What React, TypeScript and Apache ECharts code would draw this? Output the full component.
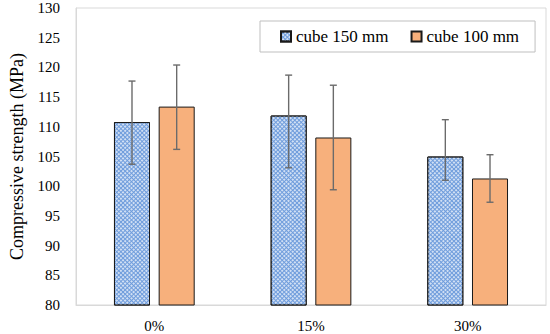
import React, { useEffect, useRef } from "react";
import * as echarts from "echarts";

const categories = ["0%", "15%", "30%"];
const seriesNames = ["cube 150 mm", "cube 100 mm"];
const cube150 = [110.8, 111.9, 105.0];
const cube100 = [113.4, 108.2, 101.3];
const err150Low = [103.7, 103.1, 101.0];
const err150High = [117.7, 118.7, 111.2];
const err100Low = [106.2, 99.4, 97.3];
const err100High = [120.4, 117.0, 105.3];
const yTicks = { min: 80, max: 130, interval: 5 };

const FONT = "'Liberation Serif', 'DejaVu Serif', serif";

export default function App() {
  const ref = useRef<HTMLDivElement>(null);
  useEffect(() => {
    if (!ref.current) return;
    const chart = echarts.init(ref.current, null, { renderer: "svg" });
    const barW = 0.23;
    const gap = 0.24;
    const offsetFrac = (barW * (1 + gap)) / 2;
    const errSeries = (lows: number[], highs: number[], dir: number, name: string) => ({
      type: "custom",
      name: name + " err",
      z: 10,
      data: lows.map((v, i) => [i, v, highs[i]]),
      renderItem: (params: any, api: any) => {
        const band = api.size([1, 0])[0];
        const lo = api.coord([api.value(0), api.value(1)]);
        const hi = api.coord([api.value(0), api.value(2)]);
        const x = lo[0] + dir * offsetFrac * band;
        const cap = 3.5;
        const style = { stroke: "#6b6b6b", lineWidth: 1.4 };
        return {
          type: "group",
          children: [
            { type: "line", shape: { x1: x, y1: lo[1], x2: x, y2: hi[1] }, style },
            { type: "line", shape: { x1: x - cap, y1: lo[1], x2: x + cap, y2: lo[1] }, style },
            { type: "line", shape: { x1: x - cap, y1: hi[1], x2: x + cap, y2: hi[1] }, style },
          ],
        };
      },
    });
    chart.setOption({
      animation: false,
      textStyle: { fontFamily: FONT },
      grid: {
        left: 62,
        right: 4,
        top: 8,
        bottom: 29,
        show: true,
        borderColor: "#d9d9d9",
        borderWidth: 1,
      },
      legend: {
        data: seriesNames,
        left: 260,
        top: 21,
        padding: [7, 16, 7, 20],
        itemWidth: 10,
        itemHeight: 10,
        itemGap: 22,
        icon: "rect",
        borderColor: "#bfbfbf",
        borderWidth: 1,
        backgroundColor: "#ffffff",
        textStyle: { fontFamily: FONT, fontSize: 17, color: "#000" },
      },
      xAxis: {
        type: "category",
        data: categories,
        axisLine: { lineStyle: { color: "#d9d9d9" } },
        axisTick: { show: false },
        axisLabel: { fontFamily: FONT, fontSize: 15, color: "#000", margin: 13 },
      },
      yAxis: {
        type: "value",
        min: yTicks.min,
        max: yTicks.max,
        interval: yTicks.interval,
        name: "Compressive strength (MPa)",
        nameLocation: "middle",
        nameGap: 50,
        nameTextStyle: { fontFamily: FONT, fontSize: 18, color: "#000" },
        axisLine: { show: true, lineStyle: { color: "#d9d9d9" } },
        axisTick: { show: false },
        splitLine: { show: false },
        axisLabel: { fontFamily: FONT, fontSize: 15, color: "#000", margin: 16 },
      },
      series: [
        {
          type: "bar",
          name: seriesNames[0],
          data: cube150,
          barWidth: barW * 100 + "%",
          barGap: gap * 100 + "%",
          itemStyle: {
            color: "#6e9cdc",
            borderColor: "#1a1a1a",
            borderWidth: 1,
            decal: {
              symbol: "circle",
              symbolSize: 0.85,
              dashArrayX: [2, 1],
              dashArrayY: [2, 1],
              rotation: Math.PI / 4,
              color: "#ffffff",
            },
          },
        },
        {
          type: "bar",
          name: seriesNames[1],
          data: cube100,
          barWidth: barW * 100 + "%",
          itemStyle: { color: "#f7b07c", borderColor: "#1a1a1a", borderWidth: 1 },
        },
        errSeries(err150Low, err150High, -1, seriesNames[0]),
        errSeries(err100Low, err100High, 1, seriesNames[1]),
      ],
    });
    return () => chart.dispose();
  }, []);
  return <div ref={ref} style={{ width: 550, height: 334, position: "absolute", left: 0, top: 0 }} />;
}
